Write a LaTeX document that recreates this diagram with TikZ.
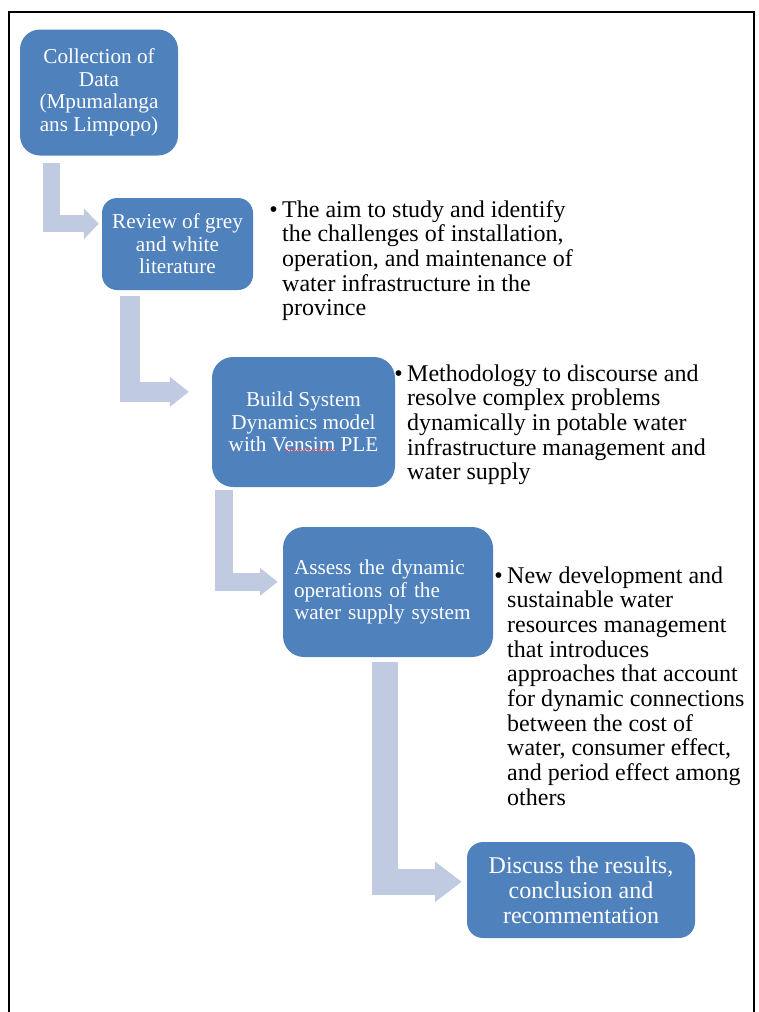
\documentclass[tikz,border=0pt]{standalone}
\usepackage{fontspec}
\setmainfont{Liberation Serif}
\usetikzlibrary{calc, positioning, arrows.meta, decorations.pathmorphing}
\definecolor{stepBlue}{RGB}{79, 129, 189}
\definecolor{flowGray}{RGB}{192, 203, 226}
\newcommand{\notelines}[1]{\begin{tabular}[t]{@{}l@{}}#1\end{tabular}}

\begin{document}
\begin{tikzpicture}[x=1pt, y=-1pt,
  phase/.style={fill=stepBlue, text=white, inner sep=0pt, align=center,
    font=\fontsize{21.2}{22.5}\selectfont},
  note/.style={anchor=base west, inner sep=0pt,
    font=\fontsize{24}{24.7}\selectfont},
  bulletmark/.style={anchor=base east, inner sep=0pt, xshift=-4pt,
    font=\fontsize{24}{24.7}\selectfont},
  flowarrow/.style={draw=flowGray, line join=miter}]
  \useasboundingbox (0,0) rectangle (759,1012);
  % page frame, open at the bottom
  \draw[line width=1.8pt] (9,1012) -- (9,12) -- (754,12) -- (754,1012);

  % the five steps
  \node[phase, minimum width=158pt, minimum height=126pt, rounded corners=20pt]
    (collect) at (99,92.5) {Collection of\\Data\\(Mpumalanga\\ans Limpopo)};
  \node[phase, minimum width=151pt, minimum height=92pt, rounded corners=15pt]
    (review) at (177.5,244) {Review of grey\\and white\\literature};
  \node[phase, minimum width=183pt, minimum height=130pt, rounded corners=21pt]
    (build) at (303.5,422) {Build System\\Dynamics model\\with Vensim PLE};
  \node[phase, minimum width=210pt, minimum height=130pt, rounded corners=21pt,
    align=left, text width=188pt]
    (assess) at (388,592) {Assess the dynamic\\operations of the\\water supply system};
  \node[phase, minimum width=228pt, minimum height=96pt, rounded corners=16pt,
    font=\fontsize{24}{25}\selectfont]
    (discuss) at (581,890) {Discuss the results,\\conclusion and\\recommentation};
  \draw[red!75, line width=0.5pt, decorate,
    decoration={snake, amplitude=0.7pt, segment length=3pt}] (285,450) -- (335,450);

  % bent arrows between steps
  \draw[flowarrow, line width=17pt, -{Triangle[length=15pt, width=30pt]}]
    ([xshift=31.5pt, yshift=-7pt]collect.south west) |- ([xshift=-3pt, yshift=-26pt]review.north west);
  \draw[flowarrow, line width=20pt, -{Triangle[length=19pt, width=29pt]}]
    ([xshift=28pt, yshift=-6pt]review.south west) |- ([xshift=-23pt, yshift=-35pt]build.north west);
  \draw[flowarrow, line width=18pt, -{Triangle[length=18pt, width=27pt]}]
    ([xshift=12.5pt, yshift=-3pt]build.south west) |- ([xshift=-5pt, yshift=-55pt]assess.north west);
  \draw[flowarrow, line width=26.5pt, -{Triangle[length=27pt, width=39pt]}]
    ([xshift=102pt, yshift=-5pt]assess.south west) |- ([xshift=-5pt, yshift=-40pt]discuss.north west);

  % bullet notes
  \node[note] (aimtext) at (282,217) {\notelines{The aim to study and identify\\the challenges of installation,\\operation, and maintenance of\\water infrastructure in the\\province}};
  \node[bulletmark] (aimdot) at (aimtext.base west) {•};
  \node[note] (methodtext) at (407,381) {\notelines{Methodology to discourse and\\resolve complex problems\\dynamically in potable water\\infrastructure management and\\water supply}};
  \node[bulletmark] (methoddot) at (methodtext.base west) {•};
  \node[note] (newtext) at (507,583) {\notelines{New development and\\sustainable water\\resources management\\that introduces\\approaches that account\\for dynamic connections\\between the cost of\\water, consumer effect,\\and period effect among\\others}};
  \node[bulletmark] (newdot) at (newtext.base west) {•};
\end{tikzpicture}
\end{document}
